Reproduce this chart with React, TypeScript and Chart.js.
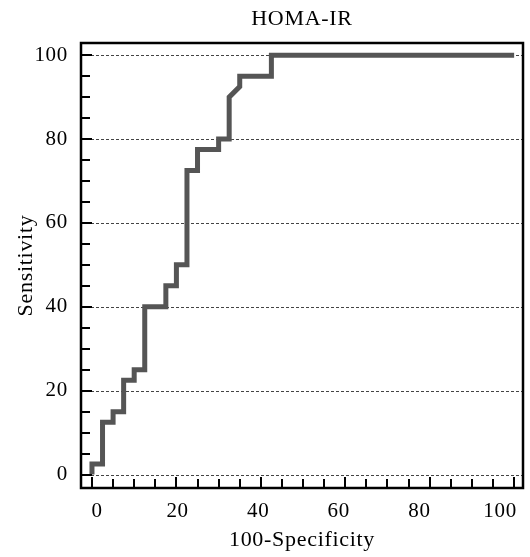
import { useEffect, useRef } from "react";
import { Chart, registerables } from "chart.js";

Chart.register(...registerables);

// ROC curve (step)
const fprValues = [0, 0, 2.5, 2.5, 5, 5, 7.5, 7.5, 10, 10, 12.5, 12.5, 17.5, 17.5, 20, 20, 22.5, 22.5, 25, 25, 30, 30, 32.5, 32.5, 35, 35, 42.5, 42.5, 100];
const tprValues = [0, 2.5, 2.5, 12.5, 12.5, 15, 15, 22.5, 22.5, 25, 25, 40, 40, 45, 45, 50, 50, 72.5, 72.5, 77.5, 77.5, 80, 80, 90, 92.5, 95, 95, 100, 100];

const xTickValues = [0, 20, 40, 60, 80, 100];
const yTickValues = [0, 20, 40, 60, 80, 100];
const minorStep = 5;

const titleText = "HOMA-IR";
const xTitle = "100-Specificity";
const yTitle = "Sensitivity";

const FONT_FAMILY = '"Liberation Serif", "Times New Roman", serif';
const SPACING = "0.7px";

const framePlugin = {
  id: "framePlugin",
  beforeDraw(chart: any) {
    (chart.ctx as any).letterSpacing = SPACING;
  },
  beforeDatasetsDraw(chart: any) {
    const { ctx, chartArea, scales } = chart;
    const y = scales.y;
    ctx.save();
    ctx.strokeStyle = "#444";
    ctx.lineWidth = 1;
    ctx.setLineDash([3, 2]);
    for (const v of yTickValues) {
      const py = Math.round(y.getPixelForValue(v)) + 0.5;
      ctx.beginPath();
      ctx.moveTo(chartArea.left, py);
      ctx.lineTo(chartArea.right, py);
      ctx.stroke();
    }
    ctx.restore();
  },
  afterDatasetsDraw(chart: any) {
    const { ctx, chartArea, scales } = chart;
    const x = scales.x;
    const y = scales.y;
    ctx.save();
    ctx.strokeStyle = "#000";
    ctx.lineWidth = 2;
    ctx.setLineDash([]);
    for (let v = 0; v <= 100; v += minorStep) {
      const px = Math.round(x.getPixelForValue(v));
      const len = v % 20 === 0 ? 11 : 9;
      ctx.beginPath();
      ctx.moveTo(px, chartArea.bottom);
      ctx.lineTo(px, chartArea.bottom - len);
      ctx.stroke();
    }
    for (let v = 0; v <= 100; v += minorStep) {
      const py = Math.round(y.getPixelForValue(v));
      const len = v % 20 === 0 ? 11 : 9;
      ctx.beginPath();
      ctx.moveTo(chartArea.left, py);
      ctx.lineTo(chartArea.left + len, py);
      ctx.stroke();
    }
    ctx.lineWidth = 2.5;
    ctx.strokeRect(
      chartArea.left,
      chartArea.top,
      chartArea.right - chartArea.left,
      chartArea.bottom - chartArea.top
    );
    ctx.restore();
  },
};

export default function App() {
  const canvasRef = useRef<HTMLCanvasElement | null>(null);

  useEffect(() => {
    const canvas = canvasRef.current;
    if (!canvas) return;
    const tickFont = { family: FONT_FAMILY, size: 21 };
    const titleFont = { family: FONT_FAMILY, size: 22 };
    const chart = new Chart(canvas, {
      type: "scatter",
      data: {
        datasets: [
          {
            label: "ROC",
            data: fprValues.map((v, i) => ({ x: v, y: tprValues[i] })),
            showLine: true,
            borderColor: "#555555",
            backgroundColor: "#555555",
            borderWidth: 5,
            pointRadius: 0,
            tension: 0,
            borderJoinStyle: "miter",
            borderCapStyle: "butt",
          } as any,
        ],
      },
      options: {
        animation: false,
        responsive: false,
        events: [],
        layout: { padding: { left: 0, right: 7, top: 0, bottom: 0 } },
        plugins: {
          legend: { display: false },
          tooltip: { enabled: false },
          title: {
            display: true,
            text: titleText,
            fullSize: false,
            color: "#000",
            font: { ...titleFont, weight: "normal" },
            padding: { top: 6.5, bottom: 10.1 },
          },
        },
        scales: {
          x: {
            type: "linear",
            display: false,
            min: -2.6,
            max: 102.1,
          },
          xl: {
            type: "linear",
            position: "bottom",
            min: -3.97,
            max: 105.7,
            grid: { display: false, drawTicks: false },
            border: { display: false },
            ticks: {
              includeBounds: false,
              autoSkip: false,
              maxRotation: 0,
              padding: 11,
              color: "#000",
              font: tickFont,
            },
            afterBuildTicks: (s: any) => {
              s.ticks = xTickValues.map((v) => ({ value: v }));
            },
            afterFit: (s: any) => {
              s.height = 69;
              s.paddingLeft = 0;
              s.paddingRight = 0;
            },
            title: {
              display: true,
              text: xTitle,
              color: "#000",
              font: titleFont,
              padding: { top: 0, bottom: 3.5 },
            },
          },
          y: {
            type: "linear",
            min: -3.2,
            max: 102.9,
            grid: { display: false, drawTicks: false },
            border: { display: false },
            ticks: {
              includeBounds: false,
              autoSkip: false,
              padding: 13,
              color: "#000",
              font: tickFont,
            },
            afterBuildTicks: (s: any) => {
              s.ticks = yTickValues.map((v) => ({ value: v }));
            },
            afterFit: (s: any) => {
              s.width = 81;
              s.paddingTop = 0;
              s.paddingBottom = 0;
            },
            title: {
              display: true,
              text: yTitle,
              color: "#000",
              font: titleFont,
              padding: { top: 13.5, bottom: 0 },
            },
          },
        },
      } as any,
      plugins: [framePlugin],
    });
    return () => chart.destroy();
  }, []);

  return (
    <div style={{ position: "fixed", left: 0, top: 0, width: 530, height: 557, background: "#fff" }}>
      <canvas ref={canvasRef} width={530} height={557} style={{ display: "block", width: 530, height: 557 }} />
    </div>
  );
}
